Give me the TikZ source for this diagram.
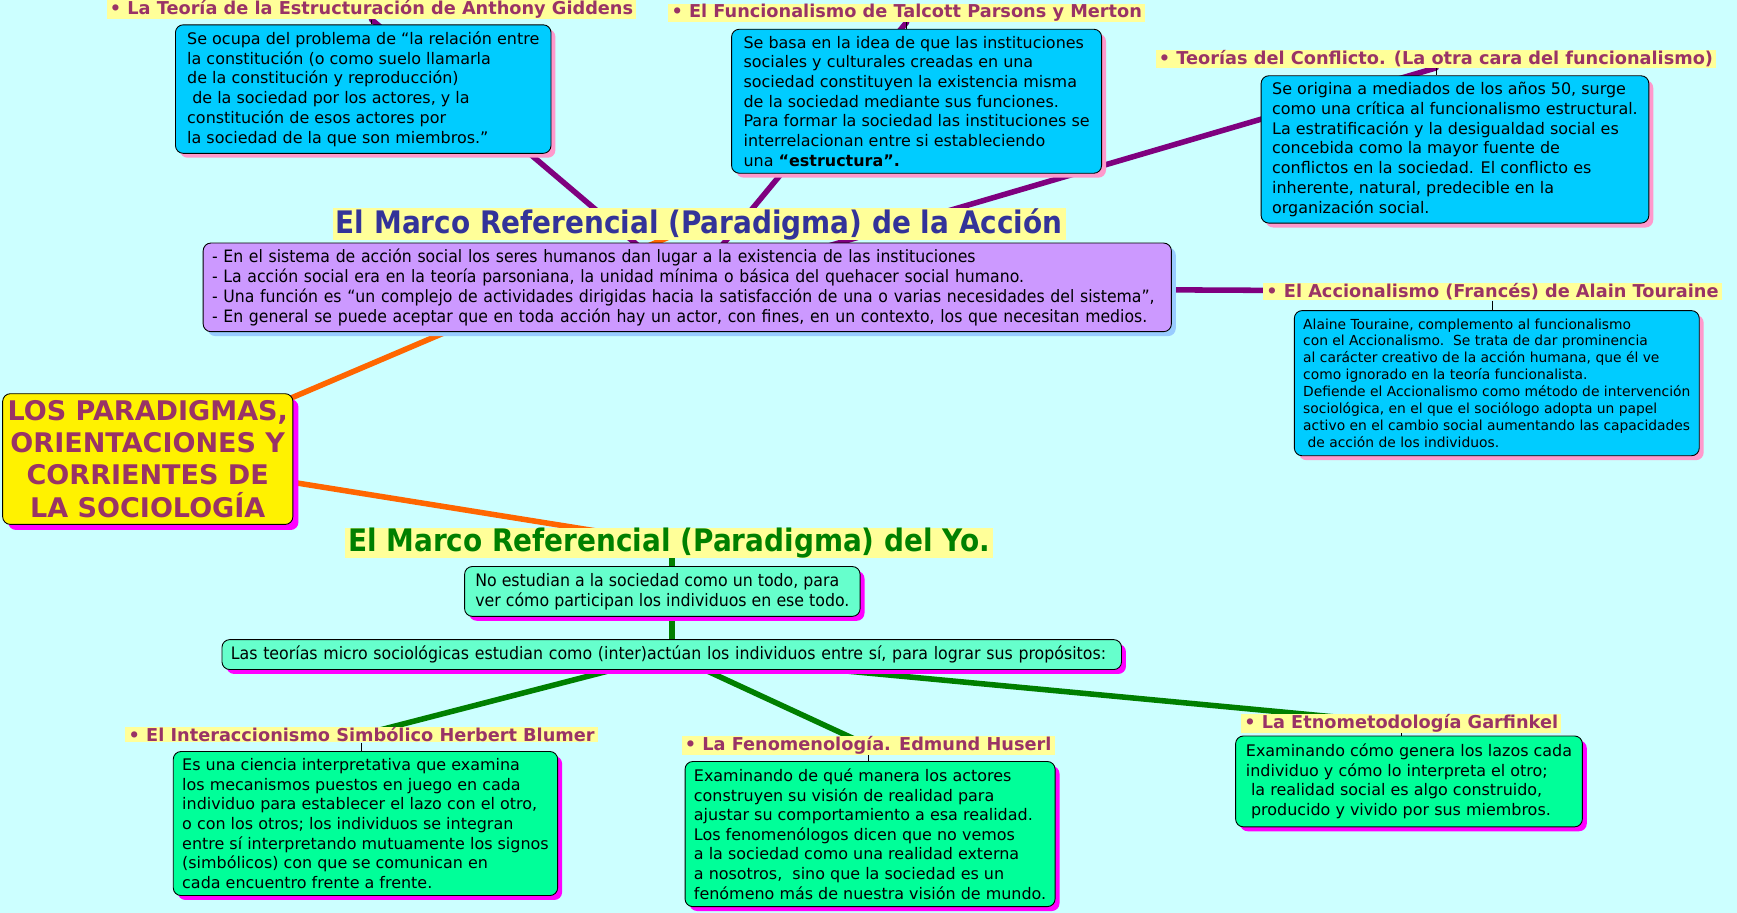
\documentclass[tikz,border=0pt]{standalone}
\usepackage{fontspec}
\setmainfont{DejaVu Sans}
\newfontfamily\condf[FakeStretch=0.92]{DejaVu Sans}
\newfontfamily\headf[FakeStretch=0.9]{DejaVu Sans}
\usetikzlibrary{shadows,backgrounds,calc}
\definecolor{bg}{HTML}{CCFFFF}
\definecolor{ttl}{HTML}{993366}
\definecolor{hl}{HTML}{FFFF99}
\definecolor{bluebox}{HTML}{00CCFF}
\definecolor{pinksh}{HTML}{FF99CC}
\definecolor{purpbox}{HTML}{CC99FF}
\definecolor{bluesh}{HTML}{99CCFF}
\definecolor{greenbox}{HTML}{00FF99}
\definecolor{tealbox}{HTML}{66FFCC}
\definecolor{magsh}{HTML}{FF00FF}
\definecolor{purpline}{HTML}{7F007F}
\definecolor{greenline}{HTML}{007F00}
\definecolor{orangeline}{HTML}{FF6600}
\definecolor{navy}{HTML}{333399}
\definecolor{dgreen}{HTML}{008000}
\tikzset{
  box/.style={draw=black, line width=0.8pt, rounded corners=7pt, align=left, anchor=north west,
    inner xsep=8pt, inner ysep=2pt, text=black, font=\fontsize{14.4}{17.8}\selectfont},
  blueb/.style={box, fill=bluebox, drop shadow={fill=pinksh, opacity=1, shadow xshift=4pt, shadow yshift=-4pt}},
  greenb/.style={box, fill=greenbox, font=\fontsize{14.4}{17.7}\selectfont, drop shadow={fill=magsh, opacity=1, shadow xshift=4pt, shadow yshift=-4pt}},
  tealb/.style={box, fill=tealbox, font=\condf\fontsize{15.5}{18}\selectfont, drop shadow={fill=magsh, opacity=1, shadow xshift=4pt, shadow yshift=-4pt}},
  purpb/.style={box, fill=purpbox, font=\condf\fontsize{15.4}{18}\selectfont, drop shadow={fill=bluesh, opacity=1, shadow xshift=4pt, shadow yshift=-4pt}},
  ttlnode/.style={fill=hl, anchor=north west, inner xsep=3pt, inner ysep=0.5pt, text=ttl, font=\bfseries\fontsize{16}{18}\selectfont},
  headnode/.style={fill=hl, anchor=north west, inner xsep=3pt, inner ysep=0pt, font=\headf\bfseries\fontsize{28}{30}\selectfont},
  rootnode/.style={draw=black, line width=0.8pt, rounded corners=7pt, fill=yellow, align=center, anchor=north west,
    text=ttl, font=\bfseries\fontsize{24.4}{29}\selectfont,
    drop shadow={fill=magsh, opacity=1, shadow xshift=5pt, shadow yshift=-5pt}},
  purpl/.style={draw=purpline, line width=5pt, line cap=round},
  greenl/.style={draw=greenline, line width=5pt},
  orangel/.style={draw=orangeline, line width=5pt},
  tick/.style={draw=black, line width=0.6pt}
}
\begin{document}
\begin{tikzpicture}[x=1pt, y=-1pt]
\useasboundingbox (0,0) rectangle (1568,824);

% root
\node[rootnode, minimum width=262pt, minimum height=118pt] (root) at (2,355)
  {LOS PARADIGMAS,\\ORIENTACIONES Y\\CORRIENTES DE \\LA SOCIOLOGÍA};

% upper branch
\node[headnode, text=navy] (h1) at (300,188) {El Marco Referencial (Paradigma) de la Acción};
\node[purpb, text width=858pt, minimum height=80pt] (pbox) at (183,219)
  {- En el sistema de acción social los seres humanos dan lugar a la existencia de las instituciones\\
   - La acción social era en la teoría parsoniana, la unidad mínima o básica del quehacer social humano.\\
   - Una función es “un complejo de actividades dirigidas hacia la satisfacción de una o varias necesidades del sistema”,\\
   - En general se puede aceptar que en toda acción hay un actor, con fines, en un contexto, los que necesitan medios.};

\node[ttlnode] (tgid) at (96,0) {• La Teoría de la Estructuración de Anthony Giddens};
\node[blueb, minimum width=339pt, minimum height=116pt] (bgid) at (158,22)
  {Se ocupa del problema de “la relación entre\\
   la constitución (o como suelo llamarla\\
   de la constitución y reproducción)\\
   \ de la sociedad por los actores, y la\\
   constitución de esos actores por\\
   la sociedad de la que son miembros.”};

\node[ttlnode] (tpar) at (603,3) {• El Funcionalismo de Talcott Parsons y Merton};
\node[blueb, minimum width=334pt, minimum height=130pt] (bpar) at (660,26)
  {Se basa en la idea de que las instituciones\\
   sociales y culturales creadas en una\\
   sociedad constituyen la existencia misma\\
   de la sociedad mediante sus funciones.\\
   Para formar la sociedad las instituciones se\\
   interrelacionan entre si estableciendo\\
   una \textbf{“estructura”.}};

\node[ttlnode] (tcon) at (1043,45) {• Teorías del Conflicto. (La otra cara del funcionalismo)};
\node[blueb, minimum width=350pt, minimum height=133pt] (bcon) at (1138,68)
  {Se origina a mediados de los años 50, surge\\
   como una crítica al funcionalismo estructural.\\
   La estratificación y la desigualdad social es\\
   concebida como la mayor fuente de\\
   conflictos en la sociedad. El conflicto es\\
   inherente, natural, predecible en la\\
   organización social.};

\node[ttlnode] (tacc) at (1140,255) {• El Accionalismo (Francés) de Alain Touraine};
\node[blueb, minimum width=364pt, minimum height=131pt, font=\fontsize{12.5}{15.3}\selectfont] (bacc) at (1168,280)
  {Alaine Touraine, complemento al funcionalismo\\
   con el Accionalismo.\ \ Se trata de dar prominencia\\
   al carácter creativo de la acción humana, que él ve\\
   como ignorado en la teoría funcionalista.\\
   Defiende el Accionalismo como método de intervención\\
   sociológica, en el que el sociólogo adopta un papel\\
   activo en el cambio social aumentando las capacidades\\
   \ de acción de los individuos.};

% lower branch
\node[headnode, text=dgreen] (h2) at (311,476) {El Marco Referencial (Paradigma) del Yo. };
\node[tealb, minimum width=357pt, minimum height=45pt] (yo1) at (419,511)
  {No estudian a la sociedad como un todo, para\\
   ver cómo participan los individuos en ese todo.};
\node[tealb, text width=796pt, minimum height=27pt] (yo2) at (200,577)
  {Las teorías micro sociológicas estudian como (inter)actúan los individuos entre sí, para lograr sus propósitos:};

\node[ttlnode] (tint) at (113,656) {• El Interaccionismo Simbólico Herbert Blumer};
\node[greenb, minimum width=347pt, minimum height=130pt] (bint) at (156,678)
  {Es una ciencia interpretativa que examina\\
   los mecanismos puestos en juego en cada\\
   individuo para establecer el lazo con el otro,\\
   o con los otros; los individuos se integran\\
   entre sí interpretando mutuamente los signos\\
   (simbólicos) con que se comunican en\\
   cada encuentro frente a frente.};

\node[ttlnode] (tfen) at (615,664) {• La Fenomenología. Edmund Huserl};
\node[greenb, minimum width=334pt, minimum height=131pt] (bfen) at (618,687)
  {Examinando de qué manera los actores\\
   construyen su visión de realidad para\\
   ajustar su comportamiento a esa realidad.\\
   Los fenomenólogos dicen que no vemos\\
   a la sociedad como una realidad externa\\
   a nosotros,\ \ sino que la sociedad es un\\
   fenómeno más de nuestra visión de mundo.};

\node[ttlnode] (teto) at (1120,644) {• La Etnometodología Garfinkel};
\node[greenb, minimum width=313pt, minimum height=82pt] (beto) at (1115,664)
  {Examinando cómo genera los lazos cada\\
   individuo y cómo lo interpreta el otro;\\
   \ la realidad social es algo construido,\\
   \ producido y vivido por sus miembros.};

\begin{scope}[on background layer]
  \fill[bg] (0,0) rectangle (1568,824);
  \draw[orangel] (root.center) -- (h1.center);
  \draw[orangel] (root.center) -- (h2.center);
  \draw[purpl] (pbox.center) -- (tgid.south);
  \draw[purpl] (pbox.center) -- (tpar.south);
  \draw[purpl] (pbox.center) -- (tcon.south);
  \draw[purpl] (pbox.center) -- (tacc.center);
  \draw[greenl] (yo2.center) -- (yo2.center |- h2.center);
  \draw[greenl] (yo2.center) -- (tint.center);
  \draw[greenl] (yo2.center) -- (tfen.center);
  \draw[greenl] (yo2.center) -- (teto.center);
  \draw[tick] (tgid.south) -- (tgid.south |- bgid.north);
  \draw[tick] (tpar.south) -- (tpar.south |- bpar.north);
  \draw[tick] (tcon.south) -- (tcon.south |- bcon.north);
  \draw[tick] (tacc.south) -- (tacc.south |- bacc.north);
  \draw[tick] (tint.south) -- (tint.south |- bint.north);
  \draw[tick] (tfen.south) -- (tfen.south |- bfen.north);
  \draw[tick] (teto.south) -- (teto.south |- beto.north);
\end{scope}
\end{tikzpicture}
\end{document}
